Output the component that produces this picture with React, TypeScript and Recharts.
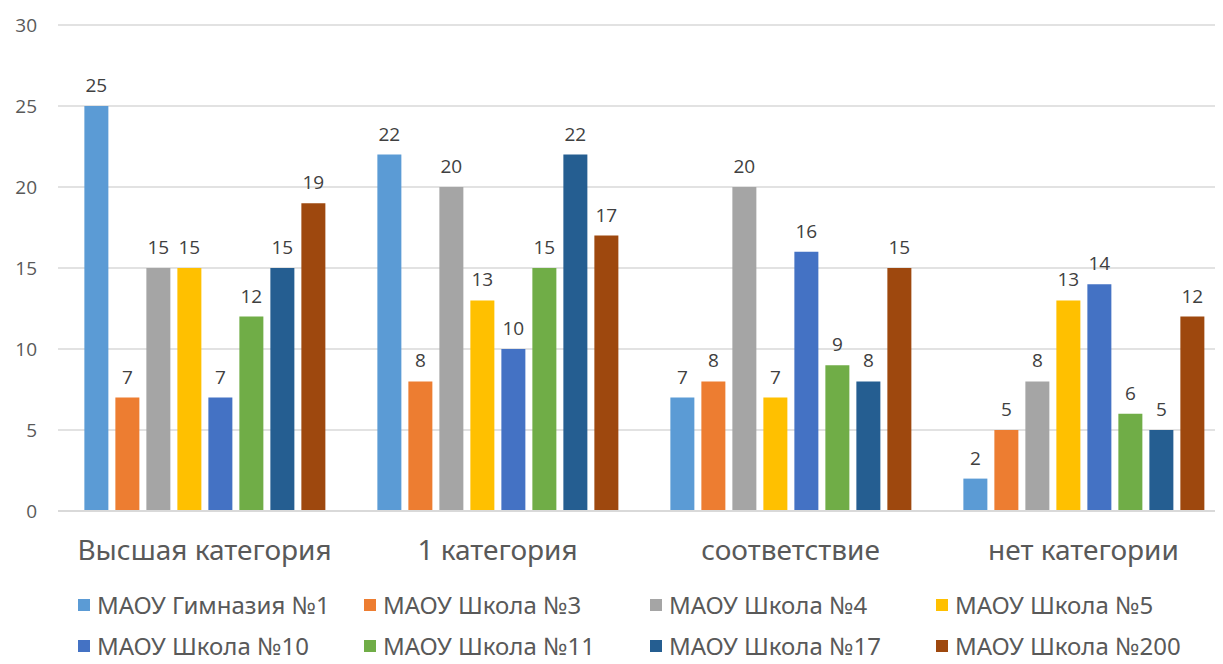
import React from 'react'
import { BarChart, Bar, XAxis, YAxis, CartesianGrid, LabelList } from 'recharts'

const categories = ['Высшая категория', '1 категория', 'соответствие', 'нет категории']
const schools = [
    'МАОУ Гимназия №1',
    'МАОУ Школа №3',
    'МАОУ Школа №4',
    'МАОУ Школа №5',
    'МАОУ Школа №10',
    'МАОУ Школа №11',
    'МАОУ Школа №17',
    'МАОУ Школа №200',
]
const colors = ['#5B9BD5', '#ED7D31', '#A5A5A5', '#FFC000', '#4472C4', '#70AD47', '#255E91', '#9E480E']

const gym1 = [25, 22, 7, 2]
const school3 = [7, 8, 8, 5]
const school4 = [15, 20, 20, 8]
const school5 = [15, 13, 7, 13]
const school10 = [7, 10, 16, 14]
const school11 = [12, 15, 9, 6]
const school17 = [15, 22, 8, 5]
const school200 = [19, 17, 15, 12]

const seriesValues = [gym1, school3, school4, school5, school10, school11, school17, school200]
const yTicks = [0, 5, 10, 15, 20, 25, 30]

const data = categories.map((name, i) => {
    const row: Record<string, string | number> = { name }
    seriesValues.forEach((vals, s) => {
        row['s' + s] = vals[i]
    })
    return row
})

const sansFont = '"Open Sans", "Noto Sans", sans-serif'
// no serif fonts in the sandbox, so the category / legend text falls back to a sans
const textFont = '"Noto Sans", sans-serif'

export default function App() {
    return (
        <div style={{ width: 1207, overflowX: 'clip', position: 'relative' }}>
            <BarChart
                width={1227}
                height={563}
                data={data}
                margin={{ top: 17, right: 5, bottom: 0, left: 0 }}
                barCategoryGap="9%"
                barGap={7}
            >
                <CartesianGrid vertical={false} stroke="#d9d9d9" strokeWidth={1.5} />
                <XAxis
                    dataKey="name"
                    height={60}
                    axisLine={{ stroke: '#d9d9d9', strokeWidth: 2 }}
                    tickLine={false}
                    tickMargin={23}
                    tick={{ fill: '#595959', fontSize: 28, fontFamily: textFont }}
                />
                <YAxis
                    width={50}
                    domain={[0, 30]}
                    ticks={yTicks}
                    axisLine={false}
                    tickLine={false}
                    tickMargin={15}
                    tick={{ fill: '#595959', fontSize: 19, fontFamily: sansFont }}
                />
                {schools.map((school, s) => (
                    <Bar key={school} dataKey={'s' + s} name={school} fill={colors[s]} isAnimationActive={false}>
                        <LabelList
                            dataKey={'s' + s}
                            position="top"
                            offset={14}
                            fill="#404040"
                            fontSize={19}
                            fontFamily={sansFont}
                        />
                    </Bar>
                ))}
            </BarChart>
            <div
                style={{
                    display: 'grid',
                    gridTemplateColumns: 'repeat(4, 286px)',
                    marginLeft: 70,
                    marginTop: 20,
                    rowGap: 13,
                    fontSize: 24,
                    fontFamily: textFont,
                    color: '#595959',
                }}
            >
                {schools.map((school, s) => (
                    <div key={school} style={{ display: 'flex', alignItems: 'center', height: 28, lineHeight: '28px' }}>
                        <span
                            style={{
                                display: 'inline-block',
                                width: 12,
                                height: 12,
                                background: colors[s],
                                marginRight: 7,
                            }}
                        />
                        <span>{school}</span>
                    </div>
                ))}
            </div>
        </div>
    )
}
